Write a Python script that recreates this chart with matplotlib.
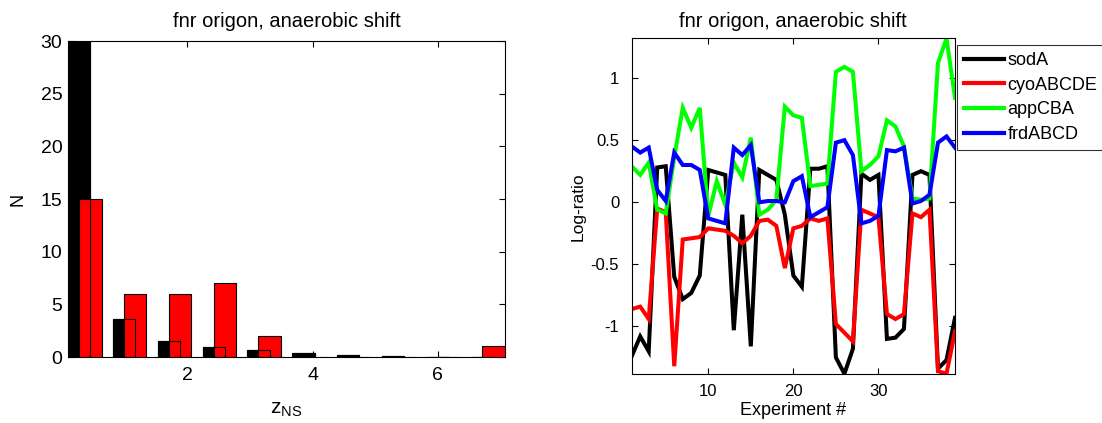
import numpy as np
import matplotlib
matplotlib.use("Agg")
import matplotlib.pyplot as plt

plt.rcParams['font.family'] = ['Liberation Sans', 'DejaVu Sans']
plt.rcParams['axes.unicode_minus'] = False
plt.rcParams['mathtext.fontset'] = 'custom'
plt.rcParams['mathtext.rm'] = 'Liberation Sans'

# ---------------- data: left histogram ----------------
bin_centers = [0.28, 0.995, 1.709, 2.424, 3.139, 3.854, 4.568, 5.283, 5.998, 6.712]
expected_counts = [30.5, 3.58, 1.49, 0.92, 0.63, 0.35, 0.16, 0.06, 0.01, 0.03]   # black
observed_counts = [15, 6, 6, 7, 2, 0, 0, 0, 0, 1]                                  # red
bar_width = 0.357
bar_offset = 0.177

# ---------------- data: right line plot ----------------
experiments = list(range(1, 40))
sodA = [-1.24, -1.08, -1.20, 0.28, 0.29, -0.60, -0.78, -0.73, -0.59, 0.26,
        0.24, 0.22, -1.03, -0.10, -1.16, 0.26, 0.22, 0.18, -0.10, -0.59,
        -0.68, 0.27, 0.27, 0.29, -1.25, -1.38, -1.18, 0.23, 0.18, 0.22,
        -1.10, -1.09, -1.02, 0.22, 0.25, 0.22, -1.34, -1.27, -0.93]
cyoABCDE = [-0.86, -0.84, -0.94, -0.05, -0.08, -1.32, -0.30, -0.29, -0.28, -0.21,
            -0.22, -0.23, -0.27, -0.33, -0.27, -0.15, -0.14, -0.19, -0.53, -0.21,
            -0.19, -0.13, -0.15, -0.13, -0.98, -1.05, -1.12, -0.06, -0.09, -0.12,
            -0.90, -0.94, -0.90, -0.09, -0.12, -0.06, -1.36, -1.38, -1.04]
appCBA = [0.29, 0.22, 0.32, -0.06, -0.09, 0.36, 0.76, 0.60, 0.76, -0.11,
          0.17, -0.02, 0.32, 0.20, 0.52, -0.10, -0.06, 0.02, 0.77, 0.70,
          0.68, 0.13, 0.14, 0.15, 1.05, 1.09, 1.05, 0.25, 0.30, 0.37,
          0.66, 0.61, 0.45, 0.03, 0.02, 0.03, 1.12, 1.32, 0.84]
frdABCD = [0.45, 0.40, 0.44, 0.10, 0.01, 0.40, 0.30, 0.30, 0.26, -0.13,
           -0.15, -0.17, 0.44, 0.38, 0.46, 0.00, 0.01, 0.01, 0.00, 0.17,
           0.21, -0.12, -0.08, -0.04, 0.48, 0.50, 0.38, -0.17, -0.15, -0.11,
           0.42, 0.41, 0.44, -0.01, 0.01, 0.06, 0.48, 0.53, 0.44]
series_names = ['sodA', 'cyoABCDE', 'appCBA', 'frdABCD']
series_colors = ['#000000', '#ff0000', '#00ff00', '#0000ff']

title_text = 'fnr origon, anaerobic shift'

W, H = 1102, 423
fig = plt.figure(figsize=(W / 100, H / 100), dpi=100)

# ---------------- left axes ----------------
ax1 = fig.add_axes([68 / W, (H - 357) / H, 437 / W, 316 / H])
bc = np.array(bin_centers)
ax1.bar(bc, expected_counts, width=bar_width, color='black', edgecolor='black',
        linewidth=0.8, zorder=2)
ax1.bar(bc + bar_offset, observed_counts, width=bar_width, color='#ff0000',
        edgecolor='black', linewidth=0.8, zorder=3)
ax1.bar(bc, expected_counts, width=bar_width, fill=False, edgecolor='black',
        linewidth=0.8, zorder=4)
ax1.set_xlim(0.1, 7.07)
ax1.set_ylim(0, 30)
ax1.set_yticks([0, 5, 10, 15, 20, 25, 30])
ax1.set_xticks([2, 4, 6])
ax1.tick_params(direction='in', length=4, width=0.8, top=True, right=True,
                labelsize=14, pad=4)
ax1.tick_params(axis='x', pad=7)
ax1.set_title(title_text, fontsize=14.5, pad=10)
ax1.set_ylabel('N', fontsize=13, labelpad=10)
ax1.set_xlabel(r'$\mathregular{z_{NS}}$', fontsize=15, labelpad=12)
for s in ax1.spines.values():
    s.set_linewidth(0.8)

# ---------------- right axes ----------------
ax2 = fig.add_axes([631.7 / W, (H - 374.3) / H, 323.3 / W, 336 / H])
for vals, name, col in zip([sodA, cyoABCDE, appCBA, frdABCD], series_names, series_colors):
    ax2.plot(experiments, vals, color=col, linewidth=2.9, label=name,
             solid_joinstyle='miter')
ax2.set_xlim(1, 39)
ax2.set_ylim(-1.385, 1.32)
ax2.set_xticks([10, 20, 30])
ax2.set_yticks([-1, -0.5, 0, 0.5, 1])
ax2.set_yticklabels(['-1', '-0.5', '0', '0.5', '1'])
ax2.tick_params(direction='in', length=4, width=0.8, top=True, right=True,
                labelsize=12, pad=9)
ax2.tick_params(axis='x', pad=7)
ax2.set_title(title_text, fontsize=14.5, pad=8)
ax2.set_ylabel('Log-ratio', fontsize=12.5, labelpad=4)
ax2.set_xlabel('Experiment #', fontsize=13, labelpad=2)
for s in ax2.spines.values():
    s.set_linewidth(0.8)

leg = fig.legend(loc='upper left', bbox_to_anchor=(956.7 / W, 1 - 45 / H),
                 fontsize=13, frameon=True, fancybox=False, handlelength=2.2,
                 handletextpad=0.22, labelspacing=0.42, borderpad=0.4,
                 borderaxespad=0.0)
leg.get_frame().set_edgecolor('black')
leg.get_frame().set_linewidth(0.8)
for line in leg.get_lines():
    line.set_linewidth(3)

fig.savefig('out.png', dpi=100)
